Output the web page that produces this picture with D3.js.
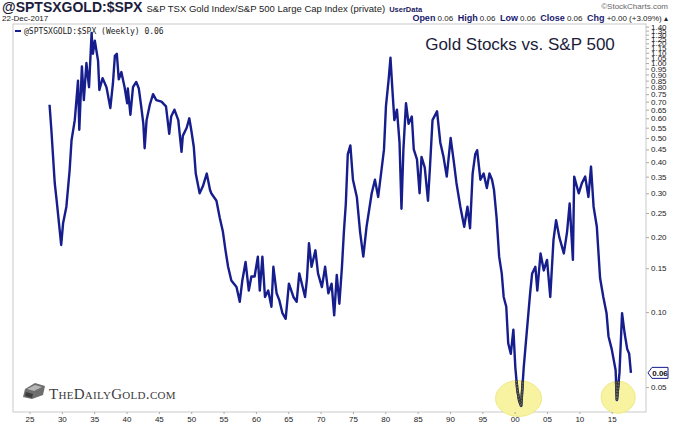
<!DOCTYPE html>
<html>
<head>
<meta charset="utf-8">
<script src="https://cdn.jsdelivr.net/npm/d3@7"></script>
<style>
  body { margin: 0; background: #fff; }
  svg { display: block; font-family: 'Liberation Sans', Arial, sans-serif; }
</style>
</head>
<body>
<div id="chart"></div>
<script>
// weekly ratio (decimal year, value)
let years = [1928.1, 1928.4, 1928.9, 1929.2, 1929.9, 1930.2, 1930.7, 1931.2, 1931.5, 1932.0,
  1932.5, 1932.7, 1933.1, 1933.4, 1933.8, 1934.2, 1934.6, 1934.8, 1935.1, 1935.6,
  1935.8, 1936.3, 1936.9, 1937.5, 1937.9, 1938.2, 1938.5, 1938.8, 1939.2, 1939.7,
  1940.1, 1940.2, 1940.6, 1941.0, 1941.5, 1941.9, 1942.3, 1942.6, 1942.8, 1943.1,
  1943.6, 1944.1, 1944.6, 1945.4, 1946.1, 1946.6, 1946.9, 1947.4, 1948.0, 1948.5,
  1948.7, 1949.3, 1949.7, 1950.0, 1950.4, 1950.7, 1951.3, 1951.8, 1952.4, 1952.9,
  1953.1, 1953.9, 1954.4, 1954.9, 1955.3, 1955.7, 1956.2, 1957.0, 1957.5, 1957.9,
  1958.4, 1958.9, 1959.3, 1959.8, 1960.3, 1960.6, 1961.0, 1961.4, 1961.9, 1962.4,
  1962.7, 1963.2, 1963.6, 1964.1, 1964.6, 1965.1, 1965.8, 1966.3, 1966.7, 1967.1,
  1967.6, 1967.9, 1968.2, 1968.6, 1969.2, 1969.6, 1970.2, 1970.7, 1971.2, 1971.7,
  1972.1, 1972.5, 1972.9, 1973.3, 1973.6, 1973.9, 1974.2, 1974.6, 1975.0, 1975.6,
  1976.1, 1976.6, 1977.1, 1977.9, 1978.4, 1978.9, 1979.4, 1979.8, 1980.1, 1980.5,
  1980.8, 1981.1, 1981.4, 1981.8, 1982.2, 1982.5, 1982.8, 1983.2, 1983.6, 1984.1,
  1984.4, 1984.9, 1985.3, 1985.6, 1986.1, 1986.6, 1986.9, 1987.3, 1988.0, 1988.5,
  1989.0, 1989.5, 1990.1, 1990.6, 1991.0, 1991.6, 1992.2, 1992.7, 1993.1, 1993.5,
  1993.9, 1994.2, 1994.7, 1995.2, 1995.7, 1996.1, 1996.5, 1996.8, 1997.2, 1997.6,
  1998.0, 1998.3, 1998.7, 1999.0, 1999.4, 1999.8, 2000.1, 2000.4, 2000.7, 2001.0,
  2001.4, 2001.9, 2002.4, 2002.7, 2003.2, 2003.5, 2004.0, 2004.5, 2005.0, 2005.5,
  2006.0, 2006.4, 2006.9, 2007.6, 2008.1, 2008.5, 2009.0, 2009.2, 2009.9, 2010.4,
  2010.9, 2011.4, 2011.8, 2012.2, 2012.7, 2013.2, 2013.7, 2014.2, 2014.5, 2015.0,
  2015.6, 2015.8, 2016.2, 2016.6, 2017.0, 2017.4, 2017.7, 2017.97]

let ratios = [0.68, 0.53, 0.33, 0.28, 0.186, 0.228, 0.265, 0.37, 0.49, 0.59,
  0.85, 0.54, 0.97, 0.71, 1.00, 0.80, 1.32, 1.09, 1.23, 1.02,
  0.78, 0.87, 0.80, 0.66, 0.83, 1.07, 1.09, 0.86, 0.92, 0.80,
  0.69, 0.79, 0.62, 0.80, 0.84, 0.79, 0.66, 0.57, 0.455, 0.59,
  0.68, 0.75, 0.71, 0.70, 0.67, 0.52, 0.61, 0.65, 0.59, 0.44,
  0.51, 0.55, 0.60, 0.54, 0.46, 0.36, 0.30, 0.32, 0.36, 0.31,
  0.30, 0.28, 0.24, 0.21, 0.177, 0.152, 0.134, 0.126, 0.110, 0.134,
  0.159, 0.122, 0.139, 0.139, 0.167, 0.122, 0.167, 0.115, 0.122, 0.105,
  0.152, 0.119, 0.112, 0.099, 0.094, 0.130, 0.115, 0.110, 0.143, 0.130,
  0.115, 0.137, 0.189, 0.152, 0.177, 0.143, 0.126, 0.152, 0.119, 0.130,
  0.097, 0.141, 0.108, 0.152, 0.21, 0.273, 0.43, 0.467, 0.34, 0.29,
  0.21, 0.167, 0.22, 0.30, 0.34, 0.29, 0.37, 0.45, 0.67, 0.85,
  1.05, 0.78, 0.59, 0.65, 0.48, 0.26, 0.45, 0.69, 0.57, 0.61,
  0.45, 0.41, 0.30, 0.42, 0.38, 0.28, 0.38, 0.59, 0.64, 0.48,
  0.42, 0.35, 0.50, 0.40, 0.33, 0.265, 0.22, 0.265, 0.217, 0.36,
  0.43, 0.447, 0.34, 0.36, 0.315, 0.36, 0.34, 0.31, 0.24, 0.167,
  0.143, 0.115, 0.105, 0.075, 0.068, 0.085, 0.060, 0.049, 0.044, 0.042,
  0.060, 0.085, 0.12, 0.143, 0.152, 0.122, 0.172, 0.147, 0.162, 0.115,
  0.195, 0.234, 0.20, 0.172, 0.21, 0.273, 0.162, 0.35, 0.30, 0.33,
  0.35, 0.29, 0.384, 0.265, 0.22, 0.137, 0.115, 0.099, 0.080, 0.071,
  0.0585, 0.0443, 0.057, 0.099, 0.082, 0.071, 0.068, 0.057]

let yTicks = [0.05, 0.10, 0.15, 0.20, 0.25, 0.30, 0.35, 0.40, 0.45, 0.50, 0.55, 0.60, 0.65,
  0.70, 0.75, 0.80, 0.85, 0.90, 0.95, 1.00, 1.05, 1.10, 1.15, 1.20, 1.25, 1.30, 1.35, 1.40]
let xTicks = [1925, 1930, 1935, 1940, 1945, 1950, 1955, 1960, 1965, 1970, 1975, 1980,
  1985, 1990, 1995, 2000, 2005, 2010, 2015]
// highlighted lows (year, ratio)
let lowYears = [2000.6, 2016.0]
let lowRatios = [0.045, 0.0455]

let data = years.map(function (yr, i) {
  return {year: yr, value: ratios[i]}
})
let lastVal = ratios[ratios.length - 1]

var width = 682
var height = 427
var plot = {left: 13, right: 646, top: 24, bottom: 412}
var navy = '#161d8c'

var x = d3.scaleLinear()
  .domain([1922.45, 2020.3])
  .range([plot.left, plot.right])

var y = d3.scaleLog()
  .domain([0.0397, 1.435])
  .range([plot.bottom, plot.top])

var svg = d3.select('#chart')
  .append('svg')
  .attr('width', width)
  .attr('height', height)

// header
var head = svg.append('text').attr('x', 2).attr('y', 12)
head.append('tspan')
  .attr('font-family', "'Liberation Sans Narrow', 'Liberation Sans', Arial")
  .attr('font-weight', 'bold').attr('font-size', 14).attr('fill', '#1c1c3c')
  .text('@SPTSXGOLD:$SPX')
head.append('tspan').attr('dx', 4).attr('font-size', 9.5).attr('fill', '#222')
  .text('S&P TSX Gold Index/S&P 500 Large Cap Index (private)')
head.append('tspan').attr('dx', 4).attr('font-size', 7.5).attr('font-weight', 'bold')
  .attr('fill', '#1a1a5e').text('UserData')

svg.append('text')
  .attr('x', 668).attr('y', 9)
  .attr('text-anchor', 'end')
  .attr('font-size', 8).attr('fill', '#666')
  .text('\u00a9StockCharts.com')

svg.append('text')
  .attr('x', 2).attr('y', 21)
  .attr('font-size', 8).attr('fill', '#222')
  .text('22-Dec-2017')

var ohlc = svg.append('text')
  .attr('x', 668).attr('y', 21)
  .attr('text-anchor', 'end')
  .attr('font-size', 8).attr('fill', '#222')
let ohlcParts = [['Open', ' 0.06  '], ['High', ' 0.06  '], ['Low', ' 0.06  '], ['Close', ' 0.06  '], ['Chg', ' +0.00 (+3.09%) \u25b4']]
ohlcParts.forEach(function (p) {
  ohlc.append('tspan').attr('font-weight', 'bold').attr('font-size', 9).attr('fill', '#1a1a6e').text(p[0])
  ohlc.append('tspan').attr('xml:space', 'preserve').text(p[1])
})

// plot frame
svg.append('rect')
  .attr('x', plot.left).attr('y', plot.top)
  .attr('width', plot.right - plot.left)
  .attr('height', plot.bottom - plot.top)
  .attr('fill', 'none')
  .attr('stroke', '#c9c9c9')

// legend
svg.append('line')
  .attr('x1', 15).attr('x2', 21).attr('y1', 31).attr('y2', 31)
  .attr('stroke', navy).attr('stroke-width', 2)
svg.append('text')
  .attr('x', 24).attr('y', 34)
  .attr('font-family', "'DejaVu Sans Mono', monospace")
  .attr('font-size', 8).attr('fill', '#222')
  .text('@SPTSXGOLD:$SPX (Weekly) 0.06')

// title
svg.append('text')
  .attr('x', 520).attr('y', 50)
  .attr('text-anchor', 'middle')
  .attr('font-size', 17).attr('fill', '#1c1c3a')
  .text('Gold Stocks vs. S&P 500')

// logo
var logo = svg.append('g').attr('transform', 'translate(23, 383)')
logo.append('path')
  .attr('d', 'M2,6 L12,0 L22,3 L20,12 L9,16 L0,14 Z')
  .attr('fill', '#6e6e6e')
logo.append('path')
  .attr('d', 'M4,6 L12,2 L19,4 L11,8 Z')
  .attr('fill', '#b5b5b5')
logo.append('path')
  .attr('d', 'M3,9 L10,11 L9,15 L2,13 Z')
  .attr('fill', '#3d3d3d')
svg.append('text')
  .attr('x', 49).attr('y', 399)
  .attr('font-family', "'Liberation Serif', 'Times New Roman', serif")
  .attr('font-size', 15).attr('font-variant', 'small-caps')
  .attr('letter-spacing', 0.3)
  .attr('fill', '#3c3c3c')
  .text('TheDailyGold.com')

// yellow circles around the lows
svg.selectAll('ellipse.low')
  .data(lowYears)
  .enter().append('ellipse')
  .attr('class', 'low')
  .attr('cx', function (d) { return x(d) })
  .attr('cy', function (d, i) { return y(lowRatios[i]) })
  .attr('rx', function (d, i) { return i === 0 ? 23 : 17 })
  .attr('ry', function (d, i) { return i === 0 ? 18 : 16 })
  .attr('fill', '#f7f3a0')
  .attr('stroke', '#efe985')

var line = d3.line()
  .x(function (d) { return x(d.year) })
  .y(function (d) { return y(d.value) })

svg.append('path')
  .datum(data)
  .attr('d', line)
  .attr('fill', 'none')
  .attr('stroke', navy)
  .attr('stroke-width', 2.4)
  .attr('stroke-linejoin', 'round')

// line inside the circles drawn grey dotted
var clip = svg.append('clipPath').attr('id', 'lowclip')
clip.selectAll('ellipse')
  .data(lowYears)
  .enter().append('ellipse')
  .attr('cx', function (d) { return x(d) })
  .attr('cy', function (d, i) { return y(lowRatios[i]) })
  .attr('rx', function (d, i) { return i === 0 ? 23 : 17 })
  .attr('ry', function (d, i) { return i === 0 ? 18 : 16 })
svg.append('path')
  .datum(data)
  .attr('d', line)
  .attr('clip-path', 'url(#lowclip)')
  .attr('fill', 'none')
  .attr('stroke', '#3a3a3a')
  .attr('stroke-width', 2.6)
svg.append('path')
  .datum(data)
  .attr('d', line)
  .attr('clip-path', 'url(#lowclip)')
  .attr('fill', 'none')
  .attr('stroke', '#9a9a9a')
  .attr('stroke-width', 0.8)
  .attr('stroke-dasharray', '1,2')

// right axis
var yAxis = svg.append('g')
  .attr('transform', 'translate(' + plot.right + ',0)')
  .call(d3.axisRight(y).tickValues(yTicks).tickFormat(d3.format('.2f')).tickSize(3).tickPadding(2))
yAxis.select('.domain').remove()
yAxis.selectAll('line').attr('stroke', '#aaa')
yAxis.selectAll('text').attr('font-size', 8).attr('fill', '#222')
  .attr('font-family', "'Liberation Sans', Arial")

// bottom axis
var xAxis = svg.append('g')
  .attr('transform', 'translate(0,' + plot.bottom + ')')
  .call(d3.axisBottom(x).tickValues(xTicks).tickFormat(function (d) {
    return d3.format('02d')(d % 100)
  }).tickSize(2).tickPadding(2))
xAxis.select('.domain').remove()
xAxis.selectAll('line').attr('stroke', '#aaa')
xAxis.selectAll('text').attr('font-size', 8).attr('fill', '#222')
  .attr('font-family', "'Liberation Sans', Arial")

// last value tag
var ty = y(lastVal)
svg.append('path')
  .attr('d', 'M' + (plot.right + 2) + ',' + ty + ' l4,-5.5 h16 v11 h-16 Z')
  .attr('fill', '#fff')
  .attr('stroke', navy)
svg.append('text')
  .attr('x', plot.right + 14).attr('y', ty + 3)
  .attr('text-anchor', 'middle')
  .attr('font-size', 8).attr('font-weight', 'bold').attr('fill', '#111')
  .text(d3.format('.2f')(lastVal))
</script>
</body>
</html>
